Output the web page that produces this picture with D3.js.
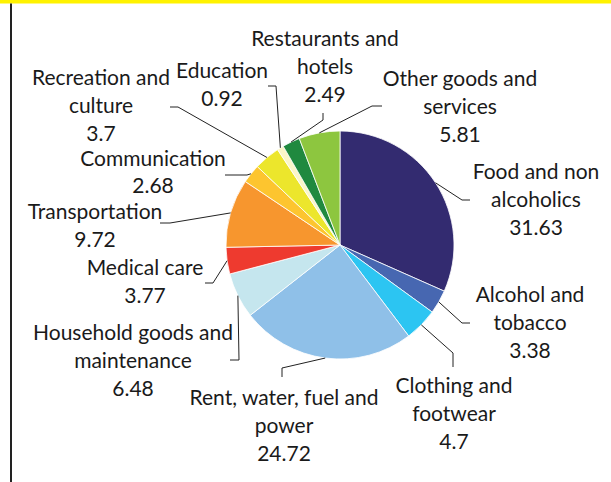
<!DOCTYPE html>
<html>
<head>
<meta charset="utf-8">
<script src="https://cdn.jsdelivr.net/npm/d3@7"></script>
<style>
  body { margin: 0; background: #fff; }
  svg { display: block; }
</style>
</head>
<body>
<div id="chart"></div>
<script>
// ---------------------------------------------------------------------------
// DATA ("|" marks a line break in the label)
// ---------------------------------------------------------------------------
const categories = [
  "Food and non|alcoholics",
  "Alcohol and|tobacco",
  "Clothing and|footwear",
  "Rent, water, fuel and|power",
  "Household goods and|maintenance",
  "Medical care",
  "Transportation",
  "Communication",
  "Recreation and|culture",
  "Education",
  "Restaurants and|hotels",
  "Other goods and|services"
];
const values = [31.63, 3.38, 4.7, 24.72, 6.48, 3.77, 9.72, 2.68, 3.7, 0.92, 2.49, 5.81];
const valueLabels = ["31.63", "3.38", "4.7", "24.72", "6.48", "3.77", "9.72", "2.68", "3.7", "0.92", "2.49", "5.81"];

// ---------------------------------------------------------------------------
// STYLE / LAYOUT
// ---------------------------------------------------------------------------
const colors = ["#332b70", "#4767b1", "#2cc5f2", "#8fc0e8", "#c5e6ee", "#ee3a2f",
                "#f7962e", "#fdc52f", "#ece62c", "#fbf6c8", "#20893f", "#8dc63f"];

const W = 611, H = 482;
const cx = 340, cy = 245, R = 114;
const fontSize = 21, lineH = 28;

// label anchor: text centre x, first baseline y, leader elbow points
const labelLayout = [
  { x: 536, y: 179, leader: [[462, 200], [470, 200]] },
  { x: 530, y: 302, leader: [[462, 323], [470, 323]] },
  { x: 454, y: 393, leader: [[453, 353], [453, 367]] },
  { x: 284, y: 405, leader: [[282, 368], [282, 377]] },
  { x: 133, y: 340, leader: [[239, 360], [230, 360]] },
  { x: 145, y: 275, leader: [[213, 283], [205, 283]] },
  { x: 95,  y: 219, leader: [[170, 223], [160, 223]] },
  { x: 153, y: 166, lineH: 27, leader: [[247, 175], [225, 175]] },
  { x: 101, y: 85,  leader: [[178, 107], [170, 107]] },
  { x: 222, y: 78,  leader: [[276, 86], [268, 86]] },
  { x: 325, y: 46,  leader: [[323, 120], [323, 113]] },
  { x: 460, y: 86,  leader: [[372, 106], [382, 106]] }
];

const svg = d3.select("#chart").append("svg")
  .attr("width", W)
  .attr("height", H);

// frame: yellow rule on top, dark rule on the left
svg.append("rect")
  .attr("x", 0).attr("y", 0)
  .attr("width", W).attr("height", 3.5)
  .attr("fill", "#fff200");
svg.append("line")
  .attr("x1", 11).attr("x2", 11)
  .attr("y1", 3.5).attr("y2", H)
  .attr("stroke", "#222")
  .attr("stroke-width", 2);

// ---------------------------------------------------------------------------
// PIE
// ---------------------------------------------------------------------------
const pie = d3.pie().sort(null).value(d => d);
const arcs = pie(values);

const arc = d3.arc().innerRadius(0).outerRadius(R);
const edge = d3.arc().innerRadius(R).outerRadius(R);

const g = svg.append("g").attr("transform", `translate(${cx},${cy})`);

g.selectAll("path.slice")
  .data(arcs)
  .join("path")
  .attr("class", "slice")
  .attr("d", arc)
  .attr("fill", (d, i) => colors[i])
  .attr("stroke", "#fff")
  .attr("stroke-width", 0.8);

// leader lines from slice edge to label
const lineGen = d3.line();
arcs.forEach((d, i) => {
  const p = edge.centroid(d);
  const pts = [[cx + p[0], cy + p[1]], ...labelLayout[i].leader];
  svg.append("path")
    .attr("d", lineGen(pts))
    .attr("fill", "none")
    .attr("stroke", "#222")
    .attr("stroke-width", 1);
});

// labels
categories.forEach((name, i) => {
  const lines = name.split("|").concat(valueLabels[i]);
  const lay = labelLayout[i];
  const lh = lay.lineH || lineH;
  const t = svg.append("text")
    .attr("text-anchor", "middle")
    .attr("font-family", "Lato, 'DejaVu Sans', sans-serif")
    .attr("font-size", fontSize)
    .attr("fill", "#1a1a1a");
  lines.forEach((ln, k) => {
    t.append("tspan")
      .attr("x", lay.x)
      .attr("y", lay.y + k * lh)
      .text(ln);
  });
});
</script>
</body>
</html>
